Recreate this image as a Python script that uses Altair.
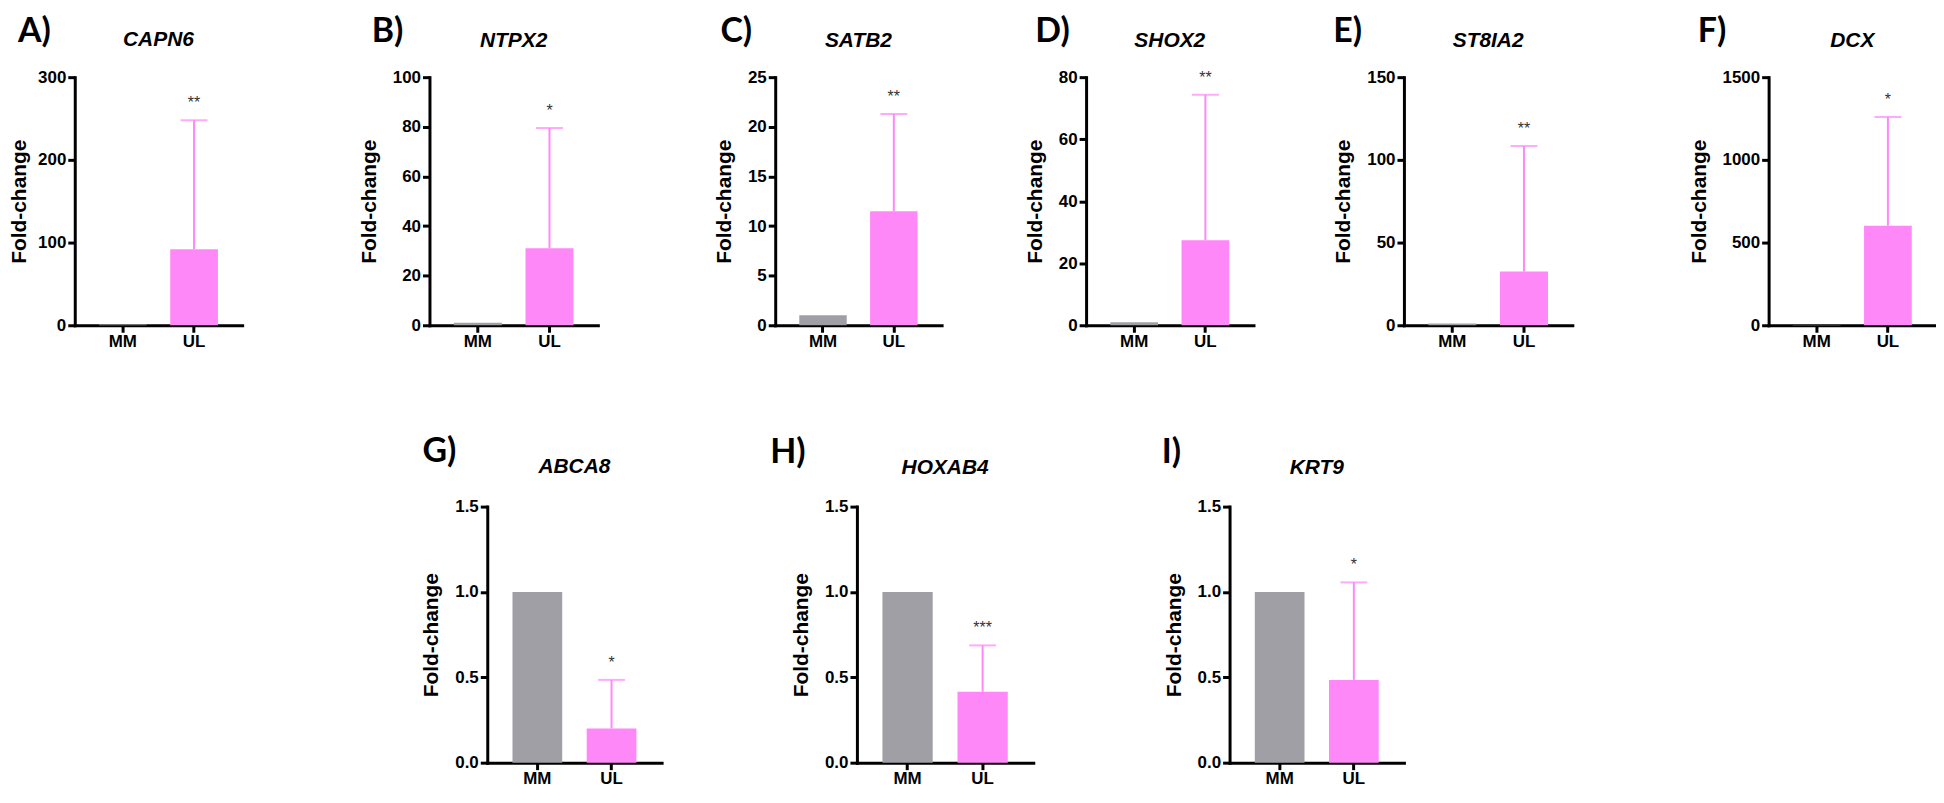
import altair as alt
import pandas as pd

# ---------------- data ----------------
letters = ["A)", "B)", "C)", "D)", "E)", "F)", "G)", "H)", "I)"]
genes = ["CAPN6", "NTPX2", "SATB2", "SHOX2", "ST8IA2", "DCX", "ABCA8", "HOXAB4", "KRT9"]
groups = ["MM", "UL"]
mm_values = [1, 1, 1, 1, 1, 1, 1.0, 1.0, 1.0]
ul_values = [92, 31, 11.5, 27.4, 32.5, 602, 0.2, 0.415, 0.485]
ul_sd = [156, 48.5, 9.8, 46.9, 75.9, 657, 0.285, 0.272, 0.571]
stars = ["**", "*", "**", "**", "**", "*", "*", "***", "*"]
y_max = [300, 100, 25, 80, 150, 1500, 1.5, 1.5, 1.5]
y_ticks = [
    [0, 100, 200, 300],
    [0, 20, 40, 60, 80, 100],
    [0, 5, 10, 15, 20, 25],
    [0, 20, 40, 60, 80],
    [0, 50, 100, 150],
    [0, 500, 1000, 1500],
    [0, 0.5, 1.0, 1.5],
    [0, 0.5, 1.0, 1.5],
    [0, 0.5, 1.0, 1.5],
]
y_formats = ["d", "d", "d", "d", "d", "d", ".1f", ".1f", ".1f"]

# ---------------- styling / layout ----------------
PINK = "#FF88F8"
GRAY = "#A09FA5"
FONT = "Liberation Sans"
widths = [168, 169, 167, 168, 169, 168, 175, 177, 175]
heights = [249] * 6 + [257] * 3
letter_dx = [-57, -58, -55, -51, -71, -71, -65, -87, -68]
letter_dy = [-35, -35, -35, -35, -35, -35, -45, -44, -44]
gene_dy = [-31, -30, -30, -30, -30, -30, -34, -33, -33]
title_pad = [8, 13, 13, 13, 13, 13, 13, 13, 13]


def panel(i):
    w, h = widths[i], heights[i]
    df = pd.DataFrame({"group": groups, "value": [mm_values[i], ul_values[i]]})
    ed = pd.DataFrame({
        "group": ["UL"],
        "mean": [ul_values[i]],
        "top": [ul_values[i] + ul_sd[i]],
        "star": [stars[i]],
    })
    lab = pd.DataFrame({"letter": [letters[i]], "gene": [genes[i]]})

    xaxis = alt.Axis(title=None, labelAngle=0, labelPadding=1)
    xenc = alt.X("group:N", sort=groups,
                 scale=alt.Scale(domain=groups, paddingInner=0.33, paddingOuter=0.34),
                 axis=xaxis)
    yscale = alt.Scale(domain=[0, y_max[i]], nice=False, zero=True)
    yaxis = alt.Axis(values=y_ticks[i], format=y_formats[i], title="Fold-change",
                     titlePadding=title_pad[i])

    bars = alt.Chart(df).mark_bar().encode(
        x=xenc,
        y=alt.Y("value:Q", scale=yscale, axis=yaxis),
        color=alt.Color("group:N", scale=alt.Scale(domain=groups, range=[GRAY, PINK]),
                        legend=None),
    )
    rule = alt.Chart(ed).mark_rule(color=PINK, strokeWidth=2).encode(
        x=xenc,
        y=alt.Y("mean:Q", scale=yscale, axis=yaxis),
        y2="top:Q",
    )
    cap = alt.Chart(ed).mark_tick(color=PINK, thickness=2, size=27).encode(
        x=xenc,
        y=alt.Y("top:Q", scale=yscale, axis=yaxis),
    )
    star = alt.Chart(ed).mark_text(baseline="alphabetic", dy=-12, fontSize=16,
                                   color="#333333", font=FONT).encode(
        x=xenc,
        y=alt.Y("top:Q", scale=yscale, axis=yaxis),
        text="star:N",
    )
    letter = alt.Chart(lab).mark_text(align="left", baseline="alphabetic", font="Lato",
                                      fontWeight="bold", fontSize=34, color="black").encode(
        x=alt.value(letter_dx[i]), y=alt.value(letter_dy[i]), text="letter:N"
    )
    gene = alt.Chart(lab).mark_text(align="center", baseline="alphabetic", font=FONT,
                                    fontStyle="italic", fontWeight="bold", fontSize=21,
                                    color="black").encode(
        x=alt.value(w / 2), y=alt.value(gene_dy[i]), text="gene:N"
    )
    return alt.layer(bars, rule, cap, star, letter, gene).properties(width=w, height=h)


p = [panel(i) for i in range(9)]

row1 = alt.hconcat(
    p[0],
    alt.hconcat(
        p[1],
        alt.hconcat(
            p[2],
            alt.hconcat(
                p[3],
                alt.hconcat(p[4], p[5], spacing=197, bounds="flush"),
                spacing=151, bounds="flush"),
            spacing=145, bounds="flush"),
        spacing=178, bounds="flush"),
    spacing=188, bounds="flush")

spacer = alt.Chart(pd.DataFrame({"a": [0]})).mark_point(opacity=0).encode(
    x=alt.value(0), y=alt.value(0)
).properties(width=1, height=257)

row2 = alt.hconcat(
    spacer,
    alt.hconcat(
        p[6],
        alt.hconcat(p[7], p[8], spacing=197, bounds="flush"),
        spacing=196, bounds="flush"),
    spacing=413, bounds="flush")

# the nested flush row counts as zero height, so the spacing spans row 1 plus the gap
chart = alt.vconcat(row1, row2, spacing=249 + 182, bounds="flush").properties(
    padding={"left": 0, "top": 6, "right": 0, "bottom": 0}, background="white"
).configure_view(stroke=None).configure_axis(
    domainColor="black", domainWidth=3, domainCap="square",
    tickColor="black", tickWidth=3, tickSize=7,
    labelFont=FONT, labelFontSize=17, labelFontWeight="bold", labelColor="black",
    titleFont=FONT, titleFontSize=21, titleFontWeight="bold", titleColor="black",
    grid=False,
)

chart.save("out.html", embed_options={"renderer": "svg", "actions": False})
